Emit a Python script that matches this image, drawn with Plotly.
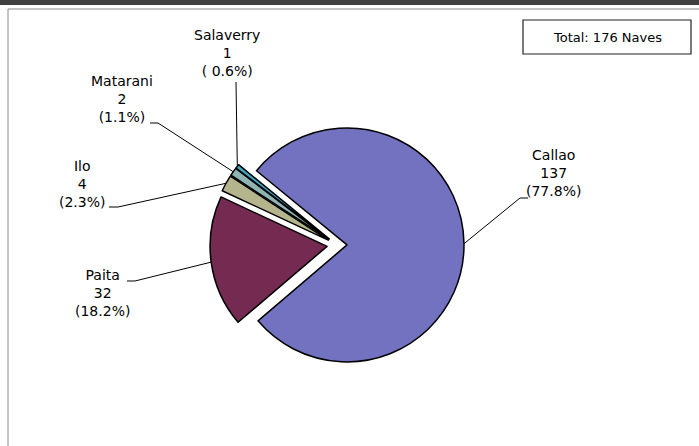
import numpy as np
import plotly.graph_objects as go

# ---------------- data ----------------
ports = ["Callao", "Paita", "Ilo", "Matarani", "Salaverry"]
ships = [137, 32, 4, 2, 1]
pct_text = ["(77.8%)", "(18.2%)", "(2.3%)", "(1.1%)", "( 0.6%)"]
slice_colors = ["#7272c0", "#742a51", "#b5b58d", "#8fb3b3", "#3ca8c4"]
total_text = "Total: 176 Naves"

# ---------------- layout constants (pixels) ----------------
W, H = 699, 446
CX, CY = 337, 245          # pie centre
R = 117                    # pie radius
PULL_PX = 10
ROTATION = -50.7
pull = PULL_PX / R

# label anchors (centre of the middle text line) and leader start points
label_pos = {
    "Callao": (553, 173),
    "Paita": (103, 293),
    "Ilo": (82, 184),
    "Matarani": (122, 99),
    "Salaverry": (227, 53),
}
leader_start = {
    "Callao": [(528, 198), (520, 198)],
    "Paita": [(127, 281), (135, 281)],
    "Ilo": [(109, 207), (118, 207)],
    "Matarani": [(150, 123), (158, 123)],
    "Salaverry": [(236, 82)],
}


def px(x, y):
    return x / W, 1 - y / H


side = 2 * R * (1 + pull)
dom_x = [(CX - side / 2) / W, (CX + side / 2) / W]
dom_y = [1 - (CY + side / 2) / H, 1 - (CY - side / 2) / H]

fig = go.Figure()
fig.add_trace(go.Pie(
    labels=ports,
    values=ships,
    sort=False,
    direction="clockwise",
    rotation=ROTATION,
    pull=[pull] * len(ships),
    marker=dict(colors=slice_colors, line=dict(color="black", width=1.5)),
    textinfo="none",
    hoverinfo="label+value+percent",
    domain=dict(x=dom_x, y=dom_y),
    showlegend=False,
))

shapes = []
annotations = []

# background frame
shapes.append(dict(type="rect", xref="paper", yref="paper",
                   x0=0, x1=1, y0=1 - 5 / H, y1=1,
                   fillcolor="#404040", line=dict(width=0), layer="below"))
shapes.append(dict(type="line", xref="paper", yref="paper",
                   x0=8 / W, x1=1, y0=1 - 9 / H, y1=1 - 9 / H,
                   line=dict(color="#8a8a8a", width=1)))
shapes.append(dict(type="line", xref="paper", yref="paper",
                   x0=8 / W, x1=8 / W, y0=0, y1=1 - 9 / H,
                   line=dict(color="#8a8a8a", width=1)))

# leader lines computed from slice mid-angles
total = sum(ships)
cum = 0
for name, v, pt in zip(ports, ships, pct_text):
    mid = ROTATION + 360 * (cum + v / 2) / total
    cum += v
    a = np.deg2rad(mid)
    ex = CX + R * (1 + pull) * np.sin(a)
    ey = CY - R * (1 + pull) * np.cos(a)
    pts = leader_start[name] + [(ex, ey)]
    path = ""
    for i, (x, y) in enumerate(pts):
        X, Y = px(x, y)
        path += ("M" if i == 0 else " L") + f" {X:.5f} {Y:.5f}"
    shapes.append(dict(type="path", xref="paper", yref="paper", path=path,
                       line=dict(color="black", width=1)))
    lx, ly = label_pos[name]
    X, Y = px(lx, ly)
    annotations.append(dict(
        x=X, y=Y, xref="paper", yref="paper", xanchor="center", yanchor="middle",
        text=f"{name}<br>{v}<br>{pt}", showarrow=False, align="center",
        font=dict(family="DejaVu Sans", size=14, color="black")))

# total box
shapes.append(dict(type="rect", xref="paper", yref="paper",
                   x0=523 / W, x1=691 / W, y0=1 - 54 / H, y1=1 - 20 / H,
                   fillcolor="white", line=dict(color="#222222", width=1.2)))
X, Y = px(607, 37)
annotations.append(dict(x=X, y=Y, xref="paper", yref="paper",
                        xanchor="center", yanchor="middle", text=total_text,
                        showarrow=False,
                        font=dict(family="DejaVu Sans", size=13, color="black")))

fig.update_layout(
    width=W, height=H,
    margin=dict(l=0, r=0, t=0, b=0),
    paper_bgcolor="white", plot_bgcolor="white",
    shapes=shapes, annotations=annotations,
)

fig.write_html("out.html",
               config={"displayModeBar": False},
               post_script="document.body.style.margin='0';"
                           "document.body.style.overflow='hidden';")
